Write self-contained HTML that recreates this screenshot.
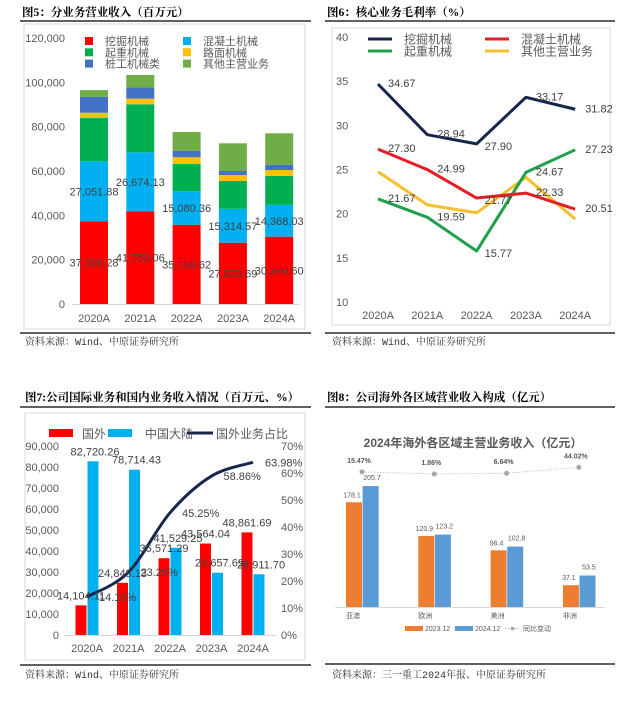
<!DOCTYPE html>
<html><head><meta charset="utf-8">
<style>
html,body{margin:0;padding:0;background:#fff;}
svg{display:block;font-family:"Liberation Sans","Noto Sans CJK SC",sans-serif;}
.t{font-family:"Liberation Serif","Noto Serif CJK SC",serif;font-weight:bold;font-size:11.5px;fill:#000;}
.src{font-family:"Liberation Mono","Noto Serif CJK SC",serif;font-size:10px;fill:#333;}
.ax{font-size:11px;fill:#595959;}
.lb{font-size:11px;fill:#404040;}
.lg{font-size:12px;fill:#595959;}
.lg5{font-size:11px;fill:#595959;}
.sm{font-size:7px;fill:#595959;}
</style></head>
<body>
<svg id="root" width="642" height="706" viewBox="0 0 642 706" xmlns="http://www.w3.org/2000/svg">
<text class="t" x="22" y="16">图5：分业务营业收入（百万元）</text>
<line x1="20" y1="21" x2="311" y2="21" stroke="#000" stroke-width="1.2"/>
<rect x="24" y="24" width="281" height="305" fill="none" stroke="#d9d9d9"/>
<line x1="20" y1="333" x2="311" y2="333" stroke="#000" stroke-width="1.2"/>
<text class="src" x="25" y="345">资料来源：Wind、中原证券研究所</text>

<text class="t" x="327" y="16">图6：核心业务毛利率（%）</text>
<line x1="325" y1="21" x2="615" y2="21" stroke="#000" stroke-width="1.2"/>
<rect x="332" y="28" width="278" height="297" fill="none" stroke="#d9d9d9"/>
<line x1="325" y1="333" x2="615" y2="333" stroke="#000" stroke-width="1.2"/>
<text class="src" x="332" y="345">资料来源：Wind、中原证券研究所</text>

<text class="t" x="25" y="401">图7:公司国际业务和国内业务收入情况（百万元、%）</text>
<line x1="20" y1="407" x2="311" y2="407" stroke="#000" stroke-width="1.2"/>
<rect x="25" y="413" width="280" height="247" fill="none" stroke="#d9d9d9"/>
<line x1="20" y1="665" x2="311" y2="665" stroke="#000" stroke-width="1.2"/>
<text class="src" x="25" y="678">资料来源：Wind、中原证券研究所</text>

<text class="t" x="327" y="401">图8：公司海外各区域营业收入构成（亿元）</text>
<line x1="325" y1="407" x2="615" y2="407" stroke="#000" stroke-width="1.2"/>
<line x1="325" y1="664" x2="615" y2="664" stroke="#000" stroke-width="1.2"/>
<text class="src" x="332" y="678">资料来源：三一重工2024年报、中原证券研究所</text>
<text x="473" y="447" text-anchor="middle" font-size="12" font-weight="bold" fill="#595959">2024年海外各区域主营业务收入（亿元）</text>
<g id="g5"></g><g id="g6"></g><g id="g7"></g><g id="g8"></g>
</svg>
<script>
const NS='http://www.w3.org/2000/svg';
function mk(parent,tag,attrs,text){const e=document.createElementNS(NS,tag);for(const k in attrs)e.setAttribute(k,attrs[k]);if(text!==undefined)e.textContent=text;parent.appendChild(e);return e;}
function fmt(v,d){return v.toLocaleString('en-US',{minimumFractionDigits:d,maximumFractionDigits:d});}

// ===== Fig 5 data =====
const f5Years=['2020A','2021A','2022A','2023A','2024A'];
const f5Names=['挖掘机械','混凝土机械','起重机械','路面机械','桩工机械类','其他主营业务'];
const f5Excav=[37308.28,41750.06,35759.62,27633.69,30370.60];
const f5Concrete=[27051.88,26674.13,15080.36,15314.57,14368.03];
const f5Crane=[19540,21700,12300,12530,13000];
const f5Road=[2400,2500,3050,2710,2700];
const f5Pile=[7200,5100,2950,1810,2390];
const f5Other=[3000,5600,8450,12480,14170];
const f5Ticks=[0,20000,40000,60000,80000,100000,120000];
const f5Colors=['#ff0000','#00b0f0','#00b050','#ffc000','#4472c4','#70ad47'];
(function(){
 const g=document.getElementById('g5');
 const y=v=>304-v*266/120000, x=i=>94+i*46.3, bw=28;
 f5Ticks.forEach(t=>{const e=mk(g,'text',{class:'ax',x:65,y:y(t)+4,'text-anchor':'end'},fmt(t,0));
  });
 const series=[f5Excav,f5Concrete,f5Crane,f5Road,f5Pile,f5Other];
 f5Years.forEach((yr,i)=>{
  let base=0;
  series.forEach((s,k)=>{const r=mk(g,'rect',{x:x(i)-bw/2,y:y(base+s[i]),width:bw,height:y(base)-y(base+s[i]),fill:f5Colors[k]});
   
   if(k<2){const l=mk(g,'text',{class:'lb',x:x(i),y:(y(base)+y(base+s[i]))/2+4,'text-anchor':'middle'},fmt(s[i],2));
    }
   base+=s[i];});
  const t=mk(g,'text',{class:'ax',x:x(i),y:322,'text-anchor':'middle'},yr);
  
 });
 const ax=mk(g,'line',{x1:72,x2:300,y1:304.5,y2:304.5,stroke:'#d9d9d9'});
 
 f5Names.forEach((n,k)=>{const cx=k%2?187:89, cy=41+Math.floor(k/2)*11.3;
  const s=mk(g,'rect',{x:cx-4,y:cy-4,width:8,height:8,fill:f5Colors[k]});
  
  const t=mk(g,'text',{class:'lg5',x:cx+16,y:cy+4},n);
  });
})();

// ===== Fig 6 data =====
const f6Years=['2020A','2021A','2022A','2023A','2024A'];
const f6Names=['挖掘机械','混凝土机械','起重机械','其他主营业务'];
const f6Excav=[34.67,28.94,27.90,33.17,31.82];
const f6Concrete=[27.30,24.99,21.77,22.33,20.51];
const f6Crane=[21.67,19.59,15.77,24.67,27.23];
const f6Other=[24.75,21.0,20.1,24.1,19.4];
const f6Ticks=[10,15,20,25,30,35,40];
const f6Colors=['#17264d','#e41e26','#1fa04a','#f5c02c'];
(function(){
 const g=document.getElementById('g6');
 const y=v=>302-(v-10)*265/30, x=i=>378+i*49.3;
 f6Ticks.forEach(t=>{const e=mk(g,'text',{class:'ax',x:336,y:y(t)+4},String(t));
  });
 f6Years.forEach((yr,i)=>{const t=mk(g,'text',{class:'ax',x:x(i),y:319,'text-anchor':'middle'},yr);
  });
 const series=[f6Excav,f6Concrete,f6Crane,f6Other];
 [3,2,1,0].forEach(k=>{const s=series[k];
  const p=mk(g,'polyline',{points:s.map((v,i)=>x(i)+','+y(v)).join(' '),fill:'none',stroke:f6Colors[k],'stroke-width':3,'stroke-linejoin':'round'});
  
  if(k<3)s.forEach((v,i)=>{const l=mk(g,'text',{class:'lb',x:x(i)+(i==2?8:10),y:y(v)+(i==2?6:3)},v.toFixed(2));
   });
 });
 f6Names.forEach((n,k)=>{const lx=k%2?485:368, ly=39+Math.floor(k/2)*12;
  const s=mk(g,'line',{x1:lx,x2:lx+24,y1:ly,y2:ly,stroke:f6Colors[k],'stroke-width':3});
  
  const t=mk(g,'text',{class:'lg',x:lx+36,y:ly+4.5},n);
  });
})();

// ===== Fig 7 data =====
const f7Years=['2020A','2021A','2022A','2023A','2024A'];
const f7Overseas=[14104.11,24848.13,36571.29,43564.04,48861.69];
const f7Domestic=[82720.26,78714.43,41529.25,29657.69,28911.70];
const f7Share=[14.10,23.28,45.25,58.86,63.98];
const f7LeftTicks=[0,10000,20000,30000,40000,50000,60000,70000,80000,90000];
const f7RightTicks=[0,10,20,30,40,50,60,70];
(function(){
 const g=document.getElementById('g7');
 const y=v=>635-v*189/90000, yr=v=>635-v*189/70, x=i=>87+i*41.5, bw=11;
 f7LeftTicks.forEach(t=>{const e=mk(g,'text',{class:'ax',x:59,y:y(t)+4,'text-anchor':'end'},fmt(t,0));
  });
 f7RightTicks.forEach(t=>{const e=mk(g,'text',{class:'ax',x:281,y:yr(t)+4},t+'%');
  });
 f7Years.forEach((yy,i)=>{
  const r=mk(g,'rect',{x:x(i)-bw-0.5,y:y(f7Overseas[i]),width:bw,height:635-y(f7Overseas[i]),fill:'#ff0000'});
  
  const b=mk(g,'rect',{x:x(i)+0.5,y:y(f7Domestic[i]),width:bw,height:635-y(f7Domestic[i]),fill:'#00b0f0'});
  
  const t=mk(g,'text',{class:'ax',x:x(i),y:652,'text-anchor':'middle'},yy);
  
 });
 const ax=mk(g,'line',{x1:64,x2:276,y1:635.5,y2:635.5,stroke:'#d9d9d9'});
 
 const pts=f7Share.map((v,i)=>[x(i),yr(v)]);
 let d='M'+pts[0][0]+','+pts[0][1];
 for(let i=0;i<pts.length-1;i++){const p0=pts[Math.max(0,i-1)],p1=pts[i],p2=pts[i+1],p3=pts[Math.min(pts.length-1,i+2)];
  const c1=[p1[0]+(p2[0]-p0[0])/6,p1[1]+(p2[1]-p0[1])/6],c2=[p2[0]-(p3[0]-p1[0])/6,p2[1]-(p3[1]-p1[1])/6];
  d+=' C'+c1.join(',')+' '+c2.join(',')+' '+p2.join(',');}
 const ln=mk(g,'path',{d:d,fill:'none',stroke:'#17264d','stroke-width':3});
 
 f7Years.forEach((yy,i)=>{
  const a=mk(g,'text',{class:'lb',x:x(i)-6,y:y(f7Overseas[i])-6,'text-anchor':'middle'},fmt(f7Overseas[i],2));
  
  const b=mk(g,'text',{class:'lb',x:x(i)+8,y:y(f7Domestic[i])-6,'text-anchor':'middle'},fmt(f7Domestic[i],2));
  
  const c=mk(g,'text',{class:'lb',x:x(i)+12,y:yr(f7Share[i])+4},f7Share[i].toFixed(2)+'%');
  
 });
 const L=[['rect',49,'#ff0000','国外',82],['rect',108,'#00b0f0','中国大陆',145],['line',187,'#17264d','国外业务占比',216]];
 L.forEach(l=>{let s;
  if(l[0]=='rect')s=mk(g,'rect',{x:l[1],y:429,width:24,height:8,fill:l[2]});
  else s=mk(g,'line',{x1:l[1],x2:l[1]+26,y1:433,y2:433,stroke:l[2],'stroke-width':3});
  
  const t=mk(g,'text',{class:'lg',x:l[4],y:438,'font-size':13},l[3]);
  });
})();

// ===== Fig 8 data =====
const f8Regions=['亚澳','欧洲','美洲','非洲'];
const f8Rev2023=[178.1,120.9,96.4,37.1];
const f8Rev2024=[205.7,123.2,102.8,53.5];
const f8Yoy=[15.47,1.86,6.64,44.02];
(function(){
 const g=document.getElementById('g8');
 const y=v=>607-v*0.588, yp=v=>474.3-v*0.159, x=i=>362+i*72.3, bw=16;
 const pts=f8Yoy.map((v,i)=>x(i)+','+yp(v)).join(' ');
 const pl=mk(g,'polyline',{points:pts,fill:'none',stroke:'#bfbfbf','stroke-width':0.8,'stroke-dasharray':'1.5,1.5'});
 
 f8Regions.forEach((r,i)=>{
  const a=mk(g,'rect',{x:x(i)-bw,y:y(f8Rev2023[i]),width:bw,height:607-y(f8Rev2023[i]),fill:'#ed7d31'});
  
  const b=mk(g,'rect',{x:x(i)+0.6,y:y(f8Rev2024[i]),width:bw,height:607-y(f8Rev2024[i]),fill:'#5b9bd5'});
  
  const la=mk(g,'text',{class:'sm',x:x(i)-bw/2-2,y:y(f8Rev2023[i])-5,'text-anchor':'middle'},f8Rev2023[i].toFixed(1));
  
  const lb=mk(g,'text',{class:'sm',x:x(i)+bw/2+2,y:y(f8Rev2024[i])-6,'text-anchor':'middle'},f8Rev2024[i].toFixed(1));
  
  const c=mk(g,'circle',{cx:x(i),cy:yp(f8Yoy[i]),r:2.5,fill:'#a6a6a6'});
  
  const lc=mk(g,'text',{class:'sm',x:x(i)-3,y:yp(f8Yoy[i])-9,'text-anchor':'middle','font-weight':'bold'},f8Yoy[i].toFixed(2)+'%');
  
  const t=mk(g,'text',{class:'sm',x:x(i)-9,y:618,'text-anchor':'middle','font-size':8},r);
  
 });
 const ax=mk(g,'line',{x1:335,x2:605,y1:607.5,y2:607.5,stroke:'#d9d9d9'});
 
 const s1=mk(g,'rect',{x:405,y:626,width:18,height:5,fill:'#ed7d31'});
 
 const t1=mk(g,'text',{class:'sm',x:425,y:631},'2023.12');
 
 const s2=mk(g,'rect',{x:455,y:626,width:18,height:5,fill:'#5b9bd5'});
 
 const t2=mk(g,'text',{class:'sm',x:475,y:631},'2024.12');
 
 const s3=mk(g,'line',{x1:505,x2:520,y1:628.5,y2:628.5,stroke:'#bfbfbf','stroke-dasharray':'1.5,1.5'});
 
 const s4=mk(g,'circle',{cx:512.5,cy:628.5,r:1.8,fill:'#a6a6a6'});
 
 const t3=mk(g,'text',{class:'sm',x:523,y:631},'同比变动');
 
})();
</script>
</body></html>
